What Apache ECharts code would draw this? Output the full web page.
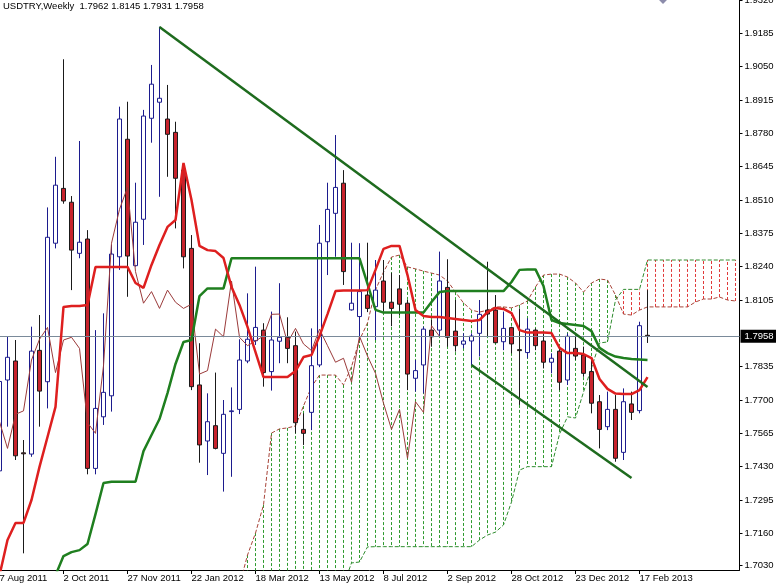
<!DOCTYPE html>
<html><head><meta charset="utf-8">
<script src="https://cdn.jsdelivr.net/npm/echarts@6/dist/echarts.min.js"></script>
<style>html,body{margin:0;padding:0;background:#fff}#c{width:776px;height:585px}</style>
</head><body><div id="c"></div>
<script>
// ---------- DATA ----------
const symbolName = 'USDTRY';
const timeframe = 'Weekly';
const firstWeekUTC = [2011, 7, 7];        // 7 Aug 2011, weekly bars
const totalSlots = 93;                    // 82 bars + projected cloud slots
const monthNames = ['Jan','Feb','Mar','Apr','May','Jun','Jul','Aug','Sep','Oct','Nov','Dec'];

const opens = [1.7413,1.7781,1.7858,1.7486,1.7481,1.7901,1.7774,1.8335,1.8557,1.8501,
 1.8294,1.8352,1.7423,1.7632,1.7717,1.8280,1.8756,1.8244,1.8432,1.8841,
 1.8906,1.8838,1.8784,1.8631,1.8314,1.7761,1.7534,1.7596,1.7484,1.7653,
 1.7662,1.7858,1.7940,1.7983,1.7815,1.7938,1.7954,1.7920,1.7581,1.7650,
 1.7842,1.8341,1.8456,1.8578,1.8065,1.8038,1.8125,1.8078,1.8182,1.8096,
 1.8150,1.8092,1.7788,1.7842,1.7983,1.7983,1.8156,1.7979,1.7926,1.7939,
 1.7970,1.8064,1.8064,1.7936,1.7993,1.7904,1.7892,1.7983,1.7939,1.7853,
 1.7898,1.7781,1.7909,1.7882,1.7815,1.7693,1.7592,1.7662,1.7488,1.7684,
 1.7657,1.7962];
const highs = [1.7790,1.7956,1.7943,1.7538,1.7997,1.8044,1.8480,1.8685,1.9080,1.8526,
 1.8749,1.8388,1.7983,1.8051,1.8328,1.8888,1.8908,1.8580,1.8875,1.9057,
 1.9212,1.8976,1.8827,1.8659,1.8368,1.7930,1.7727,1.7811,1.7700,1.7751,
 1.7946,1.8132,1.8240,1.8011,1.8058,1.8173,1.8035,1.7977,1.7646,1.7990,
 1.8409,1.8580,1.8773,1.8631,1.8337,1.8335,1.8337,1.8267,1.8267,1.8215,
 1.8206,1.8105,1.7862,1.7997,1.8024,1.8301,1.8270,1.8105,1.7970,1.7970,
 1.8105,1.8260,1.8125,1.8058,1.7997,1.8071,1.8031,1.7990,1.7970,1.7889,
 1.7916,1.7970,1.7956,1.7916,1.7862,1.7720,1.7734,1.7720,1.7747,1.7734,
 1.8017,1.8145];
const lows = [1.7400,1.7592,1.7457,1.7079,1.7470,1.7592,1.7666,1.8314,1.8495,1.8145,
 1.8274,1.7399,1.7399,1.7599,1.7653,1.8227,1.8118,1.8240,1.8328,1.8742,
 1.8523,1.8604,1.8395,1.8233,1.7740,1.7446,1.7396,1.7500,1.7329,1.7389,
 1.7643,1.7849,1.7923,1.7754,1.7738,1.7849,1.7849,1.7565,1.7518,1.7578,
 1.7833,1.8206,1.8280,1.8166,1.8062,1.7943,1.8056,1.7943,1.8058,1.7999,
 1.8044,1.7740,1.7734,1.7727,1.7916,1.7956,1.7916,1.7896,1.7909,1.7842,
 1.7876,1.7956,1.7930,1.7902,1.7889,1.7680,1.7869,1.7902,1.7828,1.7808,
 1.7740,1.7761,1.7862,1.7794,1.7646,1.7504,1.7578,1.7450,1.7457,1.7619,
 1.7646,1.7931];
const closes = [1.7775,1.7873,1.7474,1.7482,1.7898,1.7736,1.8359,1.8570,1.8506,1.8307,
 1.8339,1.7423,1.7666,1.7731,1.8291,1.8838,1.8283,1.8420,1.8850,1.8979,
 1.8922,1.8776,1.8598,1.8280,1.7754,1.7518,1.7612,1.7504,1.7642,1.7656,
 1.7862,1.7946,1.7994,1.7811,1.7943,1.7954,1.7909,1.7608,1.7565,1.7839,
 1.8335,1.8472,1.8561,1.8220,1.8092,1.8139,1.8071,1.8145,1.8096,1.8071,
 1.8088,1.7805,1.7819,1.7987,1.7956,1.8182,1.7954,1.7920,1.7939,1.7959,
 1.8047,1.8048,1.7932,1.7990,1.7927,1.7900,1.7987,1.7920,1.7853,1.7869,
 1.7772,1.7958,1.7878,1.7808,1.7687,1.7581,1.7662,1.7464,1.7693,1.7650,
 1.8001,1.7958];

// Tenkan-sen (bars 0..81)
const tenkan = [1.6990,1.7133,1.7202,1.7202,1.7295,1.7429,1.7550,1.7672,1.8077,1.8081,
 1.8081,1.8085,1.8239,1.8239,1.8239,1.8239,1.8239,1.8174,1.8154,1.8247,
 1.8328,1.8401,1.8429,1.8660,1.8510,1.8324,1.8307,1.8303,1.8275,1.8158,
 1.8085,1.7996,1.7894,1.7793,1.7793,1.7793,1.7793,1.7817,1.7874,1.7882,
 1.7959,1.8048,1.8141,1.8143,1.8143,1.8143,1.8145,1.8227,1.8312,1.8324,
 1.8324,1.8206,1.8064,1.8040,1.8036,1.8036,1.8032,1.8028,1.8024,1.8020,
 1.8024,1.8056,1.8073,1.8069,1.8052,1.7983,1.7973,1.7973,1.7973,1.7971,
 1.7911,1.7890,1.7890,1.7886,1.7870,1.7785,1.7745,1.7726,1.7724,1.7724,
 1.7740,1.7793];

// Kijun-sen (bars 7..81)
const kijunStart = 7;
const kijun = [1.6990,1.7068,1.7084,1.7092,1.7117,1.7238,1.7364,1.7369,1.7369,1.7369,
 1.7369,1.7493,1.7558,1.7623,1.7728,1.7846,1.7935,1.7943,1.8121,1.8152,
 1.8152,1.8152,1.8274,1.8274,1.8274,1.8274,1.8274,1.8274,1.8274,1.8274,
 1.8274,1.8274,1.8274,1.8274,1.8274,1.8274,1.8274,1.8274,1.8274,1.8170,
 1.8065,1.8054,1.8054,1.8054,1.8054,1.8054,1.8054,1.8097,1.8137,1.8141,
 1.8141,1.8141,1.8141,1.8141,1.8141,1.8141,1.8141,1.8178,1.8227,1.8229,
 1.8229,1.8162,1.8024,1.8012,1.8008,1.8004,1.8000,1.7979,1.7911,1.7890,
 1.7876,1.7870,1.7866,1.7864,1.7862];

// Chikou span (bars 0..55)
const chikou = [1.7612,1.7504,1.7642,1.7656,1.7862,1.7946,1.7994,1.7811,1.7943,1.7954,
 1.7909,1.7608,1.7565,1.7839,1.8335,1.8472,1.8561,1.8220,1.8092,1.8139,
 1.8071,1.8145,1.8096,1.8071,1.8088,1.7805,1.7819,1.7987,1.7956,1.8182,
 1.7954,1.7920,1.7939,1.7959,1.8047,1.8048,1.7932,1.7990,1.7927,1.7900,
 1.7987,1.7920,1.7853,1.7869,1.7772,1.7958,1.7878,1.7808,1.7687,1.7581,
 1.7662,1.7464,1.7693,1.7650,1.8001,1.7958];

// Senkou spans (slots 30..92)
const spanStart = 30;
const spanA = [1.6950,1.7072,1.7161,1.7275,1.7566,1.7583,1.7587,1.7595,1.7676,1.7753,
 1.7801,1.7801,1.7801,1.7761,1.7835,1.7943,1.8012,1.8146,1.8218,1.8279,
 1.8287,1.8239,1.8231,1.8222,1.8214,1.8206,1.8182,1.8137,1.8093,1.8064,
 1.8056,1.8064,1.8077,1.8077,1.8073,1.8085,1.8101,1.8158,1.8206,1.8210,
 1.8210,1.8198,1.8174,1.8137,1.8174,1.8190,1.8186,1.8125,1.8048,1.8044,
 1.8064,1.8077,1.8077,1.8077,1.8077,1.8077,1.8077,1.8097,1.8109,1.8109,
 1.8117,1.8105,1.8101];
const spanB = [1.6950,1.6950,1.6950,1.6950,1.6950,1.6950,1.6950,1.6950,1.6950,1.6950,
 1.6950,1.6950,1.6950,1.6950,1.7040,1.7044,1.7105,1.7106,1.7106,1.7106,
 1.7106,1.7106,1.7106,1.7106,1.7106,1.7106,1.7106,1.7106,1.7106,1.7106,
 1.7133,1.7153,1.7165,1.7194,1.7287,1.7416,1.7430,1.7430,1.7430,1.7430,
 1.7562,1.7632,1.7627,1.7732,1.7830,1.7931,1.7935,1.8105,1.8148,1.8148,
 1.8148,1.8267,1.8267,1.8267,1.8267,1.8267,1.8267,1.8267,1.8267,1.8267,
 1.8267,1.8267,1.8267];

// Hand-drawn trend lines: [bar index, price]
const trendUpper = [[20, 1.9211], [81, 1.7753]];
const trendLower = [[59, 1.7842], [79, 1.7384]];

// Price axis
const priceMin = 1.70115, priceMax = 1.9320;
const priceTicks = [1.9320,1.9185,1.9050,1.8915,1.8780,1.8645,1.8510,1.8375,1.8240,1.8105,
 1.7835,1.7700,1.7565,1.7430,1.7295,1.7160,1.7030];
const dateLabelEvery = 8;

// ---------- BUILD ----------
const categories = [];
const t0 = Date.UTC(firstWeekUTC[0], firstWeekUTC[1], firstWeekUTC[2]);
for (let i = 0; i < totalSlots; i++) {
  const d = new Date(t0 + i * 7 * 86400000);
  categories.push(d.getUTCDate() + ' ' + monthNames[d.getUTCMonth()] + ' ' + d.getUTCFullYear());
}
const nBars = opens.length;
const showDate = (idx) => idx % dateLabelEvery === 0 && idx < nBars;
const candleData = opens.map((o, i) => [o, closes[i], lows[i], highs[i]]);
const kijunData = kijun.map((v, k) => [k + kijunStart, v]);
const spanAData = spanA.map((v, k) => [k + spanStart, v]);
const spanBData = spanB.map((v, k) => [k + spanStart, v]);
const last = nBars - 1;
const lastPrice = closes[last];
const titleText = symbolName + ',' + timeframe + '  ' + opens[last].toFixed(4) + ' ' +
  highs[last].toFixed(4) + ' ' + lows[last].toFixed(4) + ' ' + closes[last].toFixed(4);

// cloud: one dashed vertical line series per slot, from span A to span B
const CLOUD_UP = '#2f9a2f', CLOUD_DOWN = '#e03a3a';
const cloudSeries = spanA.map((a, k) => {
  const b = spanB[k], x = k + spanStart;
  return {type: 'line', z: 1, silent: true, symbol: 'none', clip: true,
    data: [[x, a], [x, b]],
    lineStyle: {color: a >= b ? CLOUD_UP : CLOUD_DOWN, width: 1, type: [3, 2]}};
});

const FONT = 'Liberation Sans';
const chart = echarts.init(document.getElementById('c'), null, {renderer: 'canvas'});
chart.setOption({
  animation: false,
  backgroundColor: '#ffffff',
  title: {text: titleText, left: 3, top: 1, padding: 0,
    textStyle: {fontFamily: FONT, fontSize: 9.5, fontWeight: 'normal', color: '#000'}},
  graphic: [{type: 'rect', x: 663, y: -1, rotation: Math.PI / 4,
    shape: {x: -3.5, y: -3.5, width: 7, height: 7}, style: {fill: '#8c8cab'}, silent: true}],
  grid: {left: -4.5, top: 0, width: 744, height: 570, containLabel: false, outerBoundsMode: 'none'},
  xAxis: {
    type: 'category', data: categories, boundaryGap: true,
    axisLine: {show: true, lineStyle: {color: '#000', width: 1}},
    axisTick: {show: true, alignWithLabel: true, length: 4, lineStyle: {color: '#000'},
      interval: showDate},
    axisLabel: {show: true, interval: showDate, hideOverlap: false,
      align: 'left', margin: 3, color: '#000', fontFamily: FONT, fontSize: 9.5},
    splitLine: {show: false}
  },
  yAxis: {
    type: 'value', position: 'right', min: priceMin, max: priceMax,
    axisLine: {show: true, lineStyle: {color: '#000', width: 1}},
    axisTick: {show: true, length: 3, inside: false, customValues: priceTicks, lineStyle: {color: '#000'}},
    axisLabel: {show: true, customValues: priceTicks, margin: 5, color: '#000', hideOverlap: false,
      fontFamily: FONT, fontSize: 9.5, formatter: (v) => v.toFixed(4)},
    splitLine: {show: false}
  },
  series: cloudSeries.concat([
    {type: 'line', name: 'Senkou A', z: 2, data: spanAData, symbol: 'none', silent: true,
      lineStyle: {color: '#a8453a', width: 1, type: [4, 2]}},
    {type: 'line', name: 'Senkou B', z: 2, data: spanBData, symbol: 'none', silent: true,
      lineStyle: {color: '#2e8b2e', width: 1, type: [4, 2]},
      markLine: {silent: true, symbol: 'none', animation: false, precision: 4,
        lineStyle: {color: '#7a8a9a', width: 1, type: 'solid'},
        label: {show: true, position: 'end', distance: 1, formatter: lastPrice.toFixed(4),
          backgroundColor: '#000', color: '#fff', padding: [2, 4, 1, 4],
          fontFamily: FONT, fontSize: 9.5},
        data: [{yAxis: lastPrice}]}},
    {type: 'candlestick', name: symbolName, z: 3, data: candleData, barWidth: 5,
      itemStyle: {color: '#ffffff', color0: '#c8232c', borderColor: '#1c1c8e',
        borderColor0: '#1a1a1a', borderWidth: 1, borderColorDoji: '#1c1c8e'}},
    {type: 'line', name: 'Chikou', z: 4, data: chikou, symbol: 'none', silent: true,
      lineStyle: {color: '#9a3a3a', width: 1}},
    {type: 'line', name: 'Kijun', z: 5, data: kijunData, symbol: 'none', silent: true,
      lineStyle: {color: '#1f7f1f', width: 2.5}},
    {type: 'line', name: 'Tenkan', z: 6, data: tenkan, symbol: 'none', silent: true,
      lineStyle: {color: '#de1f1f', width: 2.5}},
    {type: 'line', name: 'Trend 1', z: 7, data: trendUpper, symbol: 'none', silent: true,
      lineStyle: {color: '#1e6b1e', width: 2.5}},
    {type: 'line', name: 'Trend 2', z: 7, data: trendLower, symbol: 'none', silent: true,
      lineStyle: {color: '#1e6b1e', width: 2.5}}
  ])
});
</script></body></html>
